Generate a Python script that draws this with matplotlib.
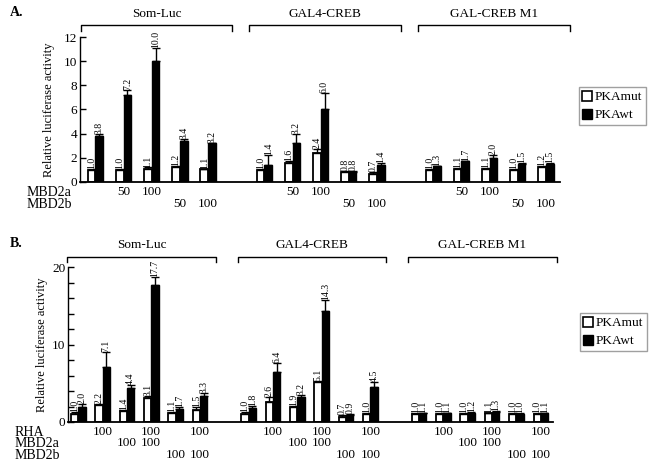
import matplotlib
matplotlib.use('Agg')
import matplotlib.pyplot as plt
from matplotlib.lines import Line2D
from matplotlib.transforms import blended_transform_factory
import numpy as np

plt.rcParams['font.family'] = ['Liberation Serif', 'DejaVu Serif']

W, H = 651, 465

# ---- Panel A data ----
a_sets = ['Som-Luc', 'GAL4-CREB', 'GAL-CREB M1']
a_mut = [[1.0, 1.0, 1.1, 1.2, 1.1],
         [1.0, 1.6, 2.4, 0.8, 0.7],
         [1.0, 1.1, 1.1, 1.0, 1.2]]
a_wt = [[3.8, 7.2, 10.0, 3.4, 3.2],
        [1.4, 3.2, 6.0, 0.8, 1.4],
        [1.3, 1.7, 2.0, 1.5, 1.5]]
a_mut_err = [[0.1, 0.05, 0.1, 0.15, 0.0],
             [0.1, 0.15, 0.3, 0.1, 0.1],
             [0.05, 0.05, 0.05, 0.05, 0.1]]
a_wt_err = [[0.15, 0.4, 1.1, 0.15, 0.0],
            [0.8, 0.8, 1.4, 0.15, 0.2],
            [0.05, 0.05, 0.2, 0.05, 0.05]]
a_rows = ['MBD2a', 'MBD2b']
a_row_vals = [['', '50', '100', '', ''],
              ['', '', '', '50', '100']]

# ---- Panel B data ----
b_sets = ['Som-Luc', 'GAL4-CREB', 'GAL-CREB M1']
b_mut = [[1.0, 2.2, 1.4, 3.1, 1.1, 1.5],
         [1.0, 2.6, 1.9, 5.1, 0.7, 1.0],
         [1.0, 1.0, 1.0, 1.1, 1.0, 1.0]]
b_wt = [[2.0, 7.1, 4.4, 17.7, 1.7, 3.3],
        [1.8, 6.4, 3.2, 14.3, 0.9, 4.5],
        [1.1, 1.1, 1.2, 1.3, 1.0, 1.1]]
b_mut_err = [[0.3, 0.1, 0.2, 0.3, 0.2, 0.4],
             [0.3, 0.6, 0.2, 0.2, 0.2, 0.2],
             [0.1, 0.1, 0.1, 0.1, 0.1, 0.1]]
b_wt_err = [[0.3, 1.9, 0.4, 1.0, 0.2, 0.5],
            [0.3, 1.2, 0.3, 1.5, 0.1, 0.7],
            [0.1, 0.1, 0.1, 0.1, 0.1, 0.1]]
b_rows = ['RHA', 'MBD2a', 'MBD2b']
b_row_vals = [['', '100', '', '100', '', '100'],
              ['', '', '100', '100', '', ''],
              ['', '', '', '', '100', '100']]


def fx(px):
    return px / W


def fy(py):
    return 1 - py / H


fig = plt.figure(figsize=(W / 100, H / 100), dpi=100)


def panel(rect, sets, mut, wt, mut_err, wt_err, rows, row_vals, ylim, yticks, ylabels,
          bw, xlo, br_lo, br_hi, br_y, br_tick, title_y, row_x, row_ys, ylab_x, letter, letter_y,
          leg_anchor):
    ax = fig.add_axes(rect)
    n = len(mut[0])
    for s in range(len(sets)):
        k0 = s * (n + 1)
        xs = np.arange(n) + k0
        ax.bar(xs - bw / 2, mut[s], bw, color='white', edgecolor='black', linewidth=1.3, zorder=2)
        ax.bar(xs + bw / 2, wt[s], bw, color='black', edgecolor='black', linewidth=1.0, zorder=2)
        ax.errorbar(xs - bw / 2, mut[s], yerr=[np.zeros(n), mut_err[s]], fmt='none',
                    ecolor='black', elinewidth=1.0, capsize=3, capthick=1.0, zorder=3)
        ax.errorbar(xs + bw / 2, wt[s], yerr=[np.zeros(n), wt_err[s]], fmt='none',
                    ecolor='black', elinewidth=1.0, capsize=3, capthick=1.0, zorder=3)
        for i in range(n):
            ax.text(xs[i] - bw / 2, mut[s][i] + mut_err[s][i], f'{mut[s][i]:.1f}',
                    rotation=90, ha='center', va='bottom', fontsize=7)
            ax.text(xs[i] + bw / 2, wt[s][i] + wt_err[s][i], f'{wt[s][i]:.1f}',
                    rotation=90, ha='center', va='bottom', fontsize=7)
        # bracket + title
        x0, x1 = k0 + br_lo, k0 + br_hi
        btr = blended_transform_factory(ax.transData, ax.transAxes)
        ax.plot([x0, x0, x1, x1], [br_tick, br_y, br_y, br_tick], color='black', lw=1.0,
                transform=btr, clip_on=False)
        ax.text((x0 + x1) / 2, title_y, sets[s], ha='center', va='center', fontsize=9.5,
                transform=btr)
        # condition rows
        tr = blended_transform_factory(ax.transData, fig.transFigure)
        for r in range(len(rows)):
            for i in range(n):
                if row_vals[r][i]:
                    ax.text(xs[i], fy(row_ys[r]), row_vals[r][i], ha='center', va='center',
                            fontsize=9.5, transform=tr)
    for r in range(len(rows)):
        fig.text(fx(row_x), fy(row_ys[r]), rows[r], ha='left', va='center', fontsize=10)

    ax.set_xlim(xlo, len(sets) * (n + 1) - 1.5)
    ax.set_ylim(*ylim)
    ax.set_yticks(yticks)
    ax.set_yticklabels(ylabels, fontsize=9.5)
    ax.set_xticks([])
    for sp in ['top', 'right']:
        ax.spines[sp].set_visible(False)
    ax.spines['left'].set_linewidth(1.0)
    ax.spines['bottom'].set_linewidth(1.3)
    ax.tick_params(axis='y', direction='in', length=4, width=1.0, pad=2)
    ax.set_ylabel('Relative luciferase activity', fontsize=9)
    ax.yaxis.set_label_coords(ylab_x, 0.5)
    fig.text(fx(10), fy(letter_y), letter, fontweight='bold', fontsize=10, ha='left', va='center')

    handles = [Line2D([], [], marker='s', ls='none', markersize=7, markerfacecolor='white',
                      markeredgecolor='black', markeredgewidth=1.2),
               Line2D([], [], marker='s', ls='none', markersize=7, markerfacecolor='black',
                      markeredgecolor='black')]
    fig.legend(handles, ['PKAmut', 'PKAwt'], loc='upper left', bbox_to_anchor=leg_anchor,
               fontsize=9.5, frameon=True, fancybox=False, edgecolor='#888888',
               handlelength=0.6, handletextpad=0.3, borderpad=0.3, labelspacing=0.45,
               borderaxespad=0)
    return ax


# Panel A
panel([fx(80), fy(182), fx(560) - fx(80), fy(37) - fy(182)],
      a_sets, a_mut, a_wt, a_mut_err, a_wt_err, a_rows, a_row_vals,
      (0, 12), [0, 2, 4, 6, 8, 10, 12], ['0', '2', '4', '6', '8', '10', '12'],
      bw=0.27, xlo=-0.55, br_lo=-0.53, br_hi=4.86, br_y=1.083, br_tick=1.04, title_y=1.16,
      row_x=27, row_ys=[192, 204], ylab_x=-0.052, letter='A.', letter_y=12,
      leg_anchor=(fx(579), fy(87)))

# Panel B
panel([fx(68), fy(422), fx(553) - fx(68), fy(267) - fy(422)],
      b_sets, b_mut, b_wt, b_mut_err, b_wt_err, b_rows, b_row_vals,
      (0, 20), list(range(0, 21, 2)), ['0', '', '', '', '', '10', '', '', '', '', '20'],
      bw=0.3, xlo=-0.42, br_lo=-0.45, br_hi=5.65, br_y=1.065, br_tick=1.03, title_y=1.14,
      row_x=15, row_ys=[432, 443, 455], ylab_x=-0.041, letter='B.', letter_y=243,
      leg_anchor=(fx(580), fy(313)))

fig.savefig('out.png', dpi=100)
